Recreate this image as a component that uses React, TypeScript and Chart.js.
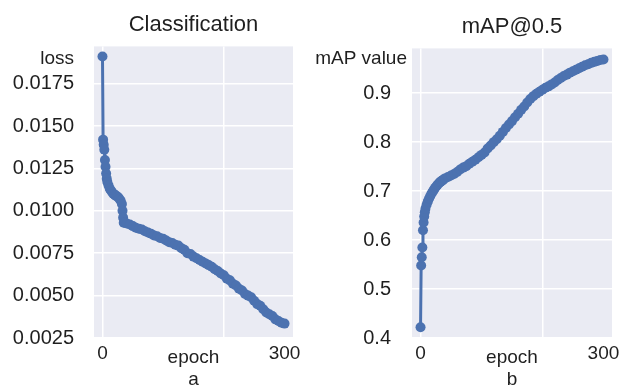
import React, { useEffect, useRef } from 'react';
import { Chart, registerables } from 'chart.js';

Chart.register(...registerables);

// ---- data ----
const epochs = [
  0, 1, 2, 3, 4, 5, 6, 7, 8, 10, 12, 14, 16, 18, 20, 22, 24, 26, 28, 30, 32, 33, 34, 35, 37, 40,
  45, 50, 55, 60, 65, 70, 75, 80, 85, 90, 95, 100, 105, 110, 115, 120, 125, 130, 135, 140, 145,
  150, 155, 160, 165, 170, 175, 180, 185, 190, 195, 200, 205, 210, 215, 220, 225, 230, 235, 240,
  245, 250, 255, 260, 265, 270, 275, 280, 285, 290, 295, 300,
];

const classificationLoss = [
  0.0191, 0.0142, 0.0139, 0.0136, 0.013, 0.0126, 0.0122, 0.0119, 0.0117, 0.0115, 0.0113, 0.0112,
  0.0111, 0.011, 0.01095, 0.0109, 0.01085, 0.0108, 0.0107, 0.0106, 0.0104, 0.01, 0.0096, 0.0093,
  0.0093, 0.00925,
  0.0092, 0.0091, 0.009, 0.00895, 0.0089, 0.0088, 0.00872, 0.00865, 0.00855, 0.0085, 0.0084,
  0.00835, 0.00825, 0.00815, 0.0081, 0.008, 0.00795, 0.0078, 0.0077, 0.0075, 0.00745, 0.0073,
  0.0072, 0.0071, 0.007, 0.0069, 0.0068, 0.0067, 0.00655, 0.00645, 0.0063, 0.0062, 0.006, 0.0059,
  0.0057, 0.0056, 0.0054, 0.0053, 0.0051, 0.005, 0.0049, 0.0047, 0.0045, 0.0044, 0.0042, 0.004,
  0.0039, 0.0038, 0.0036, 0.0035, 0.0034, 0.00335,
];

const mapAt05 = [
  0.422, 0.548, 0.565, 0.585, 0.62, 0.636, 0.648, 0.657, 0.664, 0.672, 0.679, 0.685, 0.69, 0.695,
  0.699, 0.703, 0.707, 0.71, 0.713, 0.716, 0.718, 0.719, 0.72, 0.721, 0.723, 0.726,
  0.729, 0.732, 0.735, 0.739, 0.744, 0.748, 0.751, 0.756, 0.76, 0.764, 0.769, 0.774, 0.779, 0.787,
  0.793, 0.8, 0.806, 0.813, 0.821, 0.829, 0.836, 0.843, 0.851, 0.858, 0.866, 0.873, 0.881, 0.888,
  0.894, 0.899, 0.903, 0.907, 0.911, 0.914, 0.918, 0.922, 0.927, 0.931, 0.935, 0.938, 0.942,
  0.945, 0.948, 0.951, 0.954, 0.957, 0.959, 0.962, 0.964, 0.966, 0.968, 0.969,
];

const lossTicks = [0.0025, 0.005, 0.0075, 0.01, 0.0125, 0.015, 0.0175];
const mapTicks = [0.4, 0.5, 0.6, 0.7, 0.8, 0.9];
const epochGridTicks = [0, 200];
const epochLabelTicks = [0, 300];

const FONT = '"Liberation Sans", Arial, sans-serif';
const TEXT = '#1f1f1f';
const LINE = '#4C72B0';

const plotBg = {
  id: 'plotBg',
  beforeDraw(chart: any) {
    const { ctx, chartArea: a } = chart;
    ctx.save();
    ctx.fillStyle = '#EAEBF3';
    ctx.fillRect(a.left, a.top, a.right - a.left, a.bottom - a.top);
    ctx.restore();
  },
};

const cornerLabel = {
  id: 'cornerLabel',
  afterDraw(chart: any, _args: any, opts: any) {
    if (!opts || !opts.text) return;
    const { ctx, chartArea: a } = chart;
    const y = chart.scales.y.getPixelForValue(opts.value);
    ctx.save();
    ctx.font = `19px ${FONT}`;
    ctx.fillStyle = TEXT;
    ctx.textAlign = 'right';
    ctx.textBaseline = 'middle';
    ctx.fillText(opts.text, a.left - opts.gap, y);
    ctx.restore();
  },
};

type Cfg = {
  title: string;
  titlePad: { top: number; bottom: number };
  values: number[];
  yMin: number;
  yMax: number;
  yTicks: number[];
  yDecimals: number;
  yWidth: number;
  yPad: number;
  rightPad: number;
  corner: { text: string; value: number; gap: number };
  sub: string;
};

function makeChart(canvas: HTMLCanvasElement, c: Cfg) {
  const allEpochTicks = [0, 200, 300];
  return new Chart(canvas, {
    type: 'line',
    data: {
      datasets: [
        {
          data: epochs.map((e, i) => ({ x: e, y: c.values[i] })),
          borderColor: LINE,
          backgroundColor: LINE,
          borderWidth: 3,
          pointRadius: 5,
          pointBorderWidth: 0,
          pointBackgroundColor: LINE,
          tension: 0,
        },
      ],
    },
    plugins: [plotBg, cornerLabel],
    options: {
      responsive: false,
      animation: false,
      layout: { padding: { left: 0, right: c.rightPad, top: 0, bottom: 0 } },
      plugins: {
        legend: { display: false },
        tooltip: { enabled: false },
        title: {
          display: true,
          text: c.title,
          fullSize: false,
          color: TEXT,
          font: { family: FONT, size: 22, weight: 'normal', lineHeight: 1.2 },
          padding: c.titlePad,
        },
        cornerLabel: c.corner,
      } as any,
      scales: {
        x: {
          type: 'linear',
          min: -14,
          max: 314,
          border: { display: false },
          grid: {
            drawTicks: false,
            lineWidth: 1.5,
            color: (ctx: any) =>
              ctx.tick && epochGridTicks.includes(ctx.tick.value) ? '#FFFFFF' : 'rgba(0,0,0,0)',
          },
          afterBuildTicks: (s: any) => {
            s.ticks = allEpochTicks.map((v) => ({ value: v }));
          },
          afterFit: (s: any) => {
            s.height = 51;
          },
          ticks: {
            padding: 4,
            color: TEXT,
            font: { family: FONT, size: 19 },
            maxRotation: 0,
            autoSkip: false,
            callback: (v: any) => (epochLabelTicks.includes(v) ? String(v) : ''),
          },
          title: {
            display: true,
            text: ['epoch', c.sub],
            color: TEXT,
            font: { family: FONT, size: 19, lineHeight: 1.15 },
            padding: { top: 0, bottom: -2 },
          },
        },
        y: {
          type: 'linear',
          min: c.yMin,
          max: c.yMax,
          border: { display: false },
          grid: { drawTicks: false, color: '#FFFFFF', lineWidth: 1.5 },
          afterBuildTicks: (s: any) => {
            s.ticks = c.yTicks.map((v) => ({ value: v }));
          },
          afterFit: (s: any) => {
            s.width = c.yWidth;
          },
          ticks: {
            padding: c.yPad,
            color: TEXT,
            font: { family: FONT, size: 20 },
            callback: (v: any) => Number(v).toFixed(c.yDecimals),
          },
        },
      },
    } as any,
  });
}

export default function App() {
  const leftRef = useRef<HTMLCanvasElement>(null);
  const rightRef = useRef<HTMLCanvasElement>(null);

  useEffect(() => {
    const left = makeChart(leftRef.current!, {
      title: 'Classification',
      titlePad: { top: 12, bottom: 8 },
      values: classificationLoss,
      yMin: 0.0025,
      yMax: 0.0197,
      yTicks: lossTicks,
      yDecimals: 4,
      yWidth: 94,
      yPad: 20,
      rightPad: 20,
      corner: { text: 'loss', value: 0.019, gap: 20 },
      sub: 'a',
    });
    const right = makeChart(rightRef.current!, {
      title: 'mAP@0.5',
      titlePad: { top: 14, bottom: 8 },
      values: mapAt05,
      yMin: 0.4,
      yMax: 0.9915,
      yTicks: mapTicks,
      yDecimals: 1,
      yWidth: 99,
      yPad: 21,
      rightPad: 15,
      corner: { text: 'mAP value', value: 0.971, gap: 5 },
      sub: 'b',
    });
    return () => {
      left.destroy();
      right.destroy();
    };
  }, []);

  return (
    <div
      style={{
        position: 'fixed',
        left: 0,
        top: 0,
        width: 627,
        height: 389,
        background: '#ffffff',
        overflow: 'hidden',
      }}
    >
      <canvas ref={leftRef} width={313} height={389} style={{ position: 'absolute', left: 0, top: 0 }} />
      <canvas ref={rightRef} width={314} height={389} style={{ position: 'absolute', left: 313, top: 0 }} />
    </div>
  );
}
